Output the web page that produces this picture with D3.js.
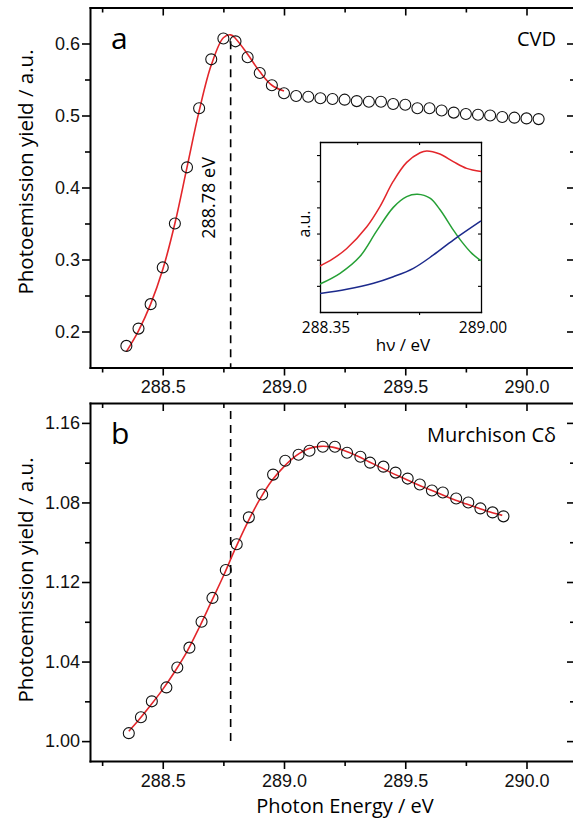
<!DOCTYPE html>
<html>
<head>
<meta charset="utf-8">
<script src="https://cdn.jsdelivr.net/npm/d3@7"></script>
<style>
  body { margin: 0; background: #fff; }
  svg { display: block; font-family: "Open Sans", sans-serif; }
  .axis .domain { stroke: #000; stroke-width: 2; stroke-linecap: square; }
  .axis line { stroke: #000; stroke-width: 1.6; }
  .axis text { font-size: 18px; fill: #111; }
  .inset .domain { stroke-width: 1.3; }
  .inset line { stroke-width: 1.1; }
  .inset text { font-size: 15.5px; }
</style>
</head>
<body>
<svg id="chart" width="573" height="821"></svg>
<script>
// panel a (CVD)
const energyA = [288.35, 288.40, 288.45, 288.50, 288.55, 288.60, 288.65, 288.70, 288.75, 288.80,
  288.85, 288.90, 288.95, 289.00, 289.05, 289.10, 289.15, 289.20, 289.25, 289.30,
  289.35, 289.40, 289.45, 289.50, 289.55, 289.60, 289.65, 289.70, 289.75, 289.80,
  289.85, 289.90, 289.95, 290.00, 290.05]
const yieldA = [0.180, 0.204, 0.238, 0.289, 0.350, 0.428, 0.510, 0.578, 0.607, 0.603,
  0.581, 0.559, 0.542, 0.531, 0.527, 0.526, 0.524, 0.523, 0.522, 0.520,
  0.519, 0.519, 0.516, 0.515, 0.510, 0.510, 0.507, 0.504, 0.502, 0.501,
  0.500, 0.498, 0.497, 0.496, 0.495]
const fitEnergyA = [288.35, 288.40, 288.45, 288.50, 288.55, 288.60, 288.65, 288.70, 288.75, 288.78,
  288.80, 288.85, 288.90, 288.95, 289.00]
const fitYieldA = [0.172, 0.201, 0.238, 0.286, 0.350, 0.428, 0.506, 0.570, 0.608, 0.612,
  0.607, 0.585, 0.561, 0.542, 0.534]

// panel b (Murchison C-delta)
const energyB = [288.36, 288.41, 288.455, 288.515, 288.56, 288.61, 288.66, 288.705, 288.76, 288.805,
  288.855, 288.91, 288.955, 289.005, 289.06, 289.105, 289.16, 289.21, 289.26, 289.315,
  289.355, 289.41, 289.46, 289.51, 289.56, 289.61, 289.655, 289.71, 289.76, 289.81,
  289.86, 289.905]
const yieldB = [1.004, 1.012, 1.020, 1.027, 1.037, 1.047, 1.060, 1.072, 1.086, 1.099,
  1.1125, 1.124, 1.134, 1.141, 1.144, 1.146, 1.148, 1.148, 1.145, 1.143,
  1.140, 1.138, 1.135, 1.132, 1.129, 1.126, 1.125, 1.122, 1.120, 1.117,
  1.115, 1.113]
const fitEnergyB = [288.36, 288.40, 288.45, 288.50, 288.55, 288.60, 288.65, 288.70, 288.75, 288.80,
  288.85, 288.90, 288.95, 289.00, 289.05, 289.10, 289.15, 289.20, 289.25, 289.30,
  289.35, 289.40, 289.45, 289.50, 289.55, 289.60, 289.65, 289.70, 289.75, 289.80,
  289.85, 289.90]
const fitYieldB = [1.005, 1.0105, 1.018, 1.026, 1.035, 1.045, 1.057, 1.070, 1.083, 1.097,
  1.110, 1.1215, 1.131, 1.138, 1.1435, 1.147, 1.1482, 1.1478, 1.146, 1.1435,
  1.1405, 1.1375, 1.1345, 1.1318, 1.129, 1.1265, 1.124, 1.1215, 1.1193, 1.1172,
  1.1152, 1.1135]

// inset components
const insetRedE = [288.35, 288.40, 288.458, 288.539, 288.592, 288.646, 288.70, 288.754, 288.781, 288.834, 288.888, 288.942, 289.00]
const insetRedY = [1.76, 2.02, 2.43, 3.26, 4.03, 5.00, 5.72, 6.09, 6.16, 6.04, 5.75, 5.49, 5.37]
const insetGreenE = [288.35, 288.431, 288.511, 288.579, 288.646, 288.70, 288.744, 288.794, 288.834, 288.888, 288.922, 288.963, 289.00]
const insetGreenY = [1.07, 1.48, 2.12, 3.10, 4.00, 4.41, 4.50, 4.35, 3.92, 3.14, 2.69, 2.24, 1.96]
const insetBlueE = [288.35, 288.458, 288.566, 288.646, 288.727, 288.808, 288.888, 289.00]
const insetBlueY = [0.71, 0.87, 1.10, 1.35, 1.67, 2.18, 2.75, 3.48]

// ticks
const xMajor = [288.5, 289.0, 289.5, 290.0]
const xMinor = [288.25, 288.75, 289.25, 289.75]
const yMajorA = [0.2, 0.3, 0.4, 0.5, 0.6]
const yMinorA = [0.25, 0.35, 0.45, 0.55]
const yMajorB = [1.00, 1.04, 1.08, 1.12, 1.16]
const yMinorB = [1.02, 1.06, 1.10, 1.14]
const yLabelsB = ['1.00', '1.04', '1.12', '1.08', '1.16']   // as printed on the figure
const insetXTicks = [288.5, 288.75]
const insetYTicks = [1, 2, 3, 4, 5, 6]
const insetXLabels = ['288.35', '289.00']
const peakEnergy = 288.78

const svg = d3.select('#chart')
const red = '#e3262b'

const x = d3.scaleLinear().domain([288.2, 290.2]).range([90, 575])
const yA = d3.scaleLinear().domain([0.15, 0.65]).range([367.5, 7.5])
const yB = d3.scaleLinear().domain([0.99, 1.17]).range([761, 403])

function frame(g, x, y, o) {
  const [x0, x1] = x.range()
  const [y0, y1] = y.range()
  const add = (axis, tx, ty) => g.append('g').attr('class', o.cls || 'axis')
    .attr('transform', `translate(${tx},${ty})`).call(axis)
  // bottom (labels, outward)
  add(d3.axisBottom(x).tickValues(o.xMajor).tickSize(o.major).tickSizeOuter(0)
    .tickPadding(o.pad).tickFormat(o.xFmt || ''), 0, y0)
  // top (inward)
  add(d3.axisBottom(x).tickValues(o.xMajor).tickSize(o.major).tickSizeOuter(0).tickFormat(''), 0, y1)
  // left (labels, outward)
  add(d3.axisLeft(y).tickValues(o.yMajor).tickSize(o.major).tickSizeOuter(0)
    .tickPadding(2).tickFormat(o.yFmt || ''), x0, 0)
  // right (inward)
  add(d3.axisLeft(y).tickValues(o.yMajor).tickSize(o.major).tickSizeOuter(0).tickFormat(''), x1, 0)
  if (o.xMinor) {
    add(d3.axisBottom(x).tickValues(o.xMinor).tickSize(o.minor).tickFormat(''), 0, y0).select('.domain').remove()
    add(d3.axisBottom(x).tickValues(o.xMinor).tickSize(o.minor).tickFormat(''), 0, y1).select('.domain').remove()
  }
  if (o.yMinor) {
    add(d3.axisLeft(y).tickValues(o.yMinor).tickSize(o.minor).tickFormat(''), x0, 0).select('.domain').remove()
    add(d3.axisLeft(y).tickValues(o.yMinor).tickSize(o.minor).tickFormat(''), x1, 0).select('.domain').remove()
  }
}

function drawPanel(energy, values, fitE, fitV, y, o) {
  const g = svg.append('g')
  frame(g, x, y, o)

  g.append('line')
    .attr('x1', x(peakEnergy)).attr('x2', x(peakEnergy))
    .attr('y1', y(o.dashTop)).attr('y2', y(o.dashBottom))
    .attr('stroke', '#000').attr('stroke-width', 1.6).attr('stroke-dasharray', '8,6')

  const line = d3.line().x(d => x(d[0])).y(d => y(d[1])).curve(d3.curveCatmullRom.alpha(0.5))
  g.append('path')
    .datum(d3.zip(fitE, fitV))
    .attr('d', line)
    .attr('fill', 'none').attr('stroke', red).attr('stroke-width', 1.6)

  g.selectAll('circle.pt')
    .data(d3.zip(energy, values))
    .enter()
    .append('circle')
    .attr('class', 'pt')
    .attr('cx', d => x(d[0]))
    .attr('cy', d => y(d[1]))
    .attr('r', 5.5)
    .attr('fill', 'none')
    .attr('stroke', '#111')
    .attr('stroke-width', 1.1)

  g.append('text').attr('x', 111).attr('y', o.letterY)
    .style('font-size', '30px').text(o.letter)
  g.append('text').attr('x', 556).attr('y', o.nameY).attr('text-anchor', 'end')
    .style('font-size', '20px').text(o.name)
  g.append('text')
    .attr('transform', `translate(33,${o.titleY}) rotate(-90)`)
    .attr('text-anchor', 'middle')
    .style('font-size', '20.5px')
    .text('Photoemission yield / a.u.')
  return g
}

const gA = drawPanel(energyA, yieldA, fitEnergyA, fitYieldA, yA, {
  xMajor, xMinor, yMajor: yMajorA, yMinor: yMinorA, major: 8, minor: 5, pad: 5,
  xFmt: d3.format('.1f'), yFmt: d3.format('.1f'),
  dashTop: 0.603, dashBottom: 0.15, letter: 'a', letterY: 49, name: 'CVD', nameY: 46, titleY: 172
})

gA.append('text')
  .attr('transform', `translate(215,198) rotate(-90)`)
  .attr('text-anchor', 'middle')
  .style('font-size', '18px')
  .text('288.78 eV')

drawPanel(energyB, yieldB, fitEnergyB, fitYieldB, yB, {
  xMajor, xMinor, yMajor: yMajorB, yMinor: yMinorB, major: 8, minor: 5, pad: 5,
  xFmt: d3.format('.1f'), yFmt: d => yLabelsB[yMajorB.indexOf(d)],
  dashTop: 1.166, dashBottom: 0.997, letter: 'b', letterY: 444, name: 'Murchison C\u03b4', nameY: 442, titleY: 580
})

svg.append('text')
  .attr('x', 345).attr('y', 813)
  .attr('text-anchor', 'middle')
  .style('font-size', '20px')
  .text('Photon Energy / eV')

// inset
const xi = d3.scaleLinear().domain([288.35, 289.0]).range([320, 481])
const yi = d3.scaleLinear().domain([0, 6.5]).range([312, 142])
const gi = svg.append('g')
gi.append('rect').attr('x', 320).attr('y', 142).attr('width', 161).attr('height', 170).attr('fill', '#fff')
frame(gi, xi, yi, { xMajor: insetXTicks, yMajor: insetYTicks, major: 3, pad: 4, cls: 'axis inset' })

const iline = d3.line().x(d => xi(d[0])).y(d => yi(d[1])).curve(d3.curveCatmullRom.alpha(0.5))
const comps = [
  [insetRedE, insetRedY, '#e3262b'],
  [insetGreenE, insetGreenY, '#25a035'],
  [insetBlueE, insetBlueY, '#1c2a8c']
]
gi.selectAll('path.comp')
  .data(comps)
  .enter()
  .append('path')
  .attr('class', 'comp')
  .attr('d', c => iline(d3.zip(c[0], c[1])))
  .attr('fill', 'none')
  .attr('stroke', c => c[2])
  .attr('stroke-width', 1.5)

gi.selectAll('text.xl')
  .data(insetXLabels)
  .enter()
  .append('text')
  .attr('class', 'xl')
  .attr('x', (d, i) => i === 0 ? xi(288.35) + 6 : xi(289.0) + 2)
  .attr('y', 333)
  .attr('text-anchor', 'middle')
  .style('font-size', '15.5px')
  .text(d => d)

gi.append('text')
  .attr('x', 403).attr('y', 351)
  .attr('text-anchor', 'middle')
  .style('font-size', '17px')
  .text('h\u03bd / eV')

gi.append('text')
  .attr('transform', 'translate(310,224) rotate(-90)')
  .attr('text-anchor', 'middle')
  .style('font-size', '16px')
  .text('a.u.')
</script>
</body>
</html>
